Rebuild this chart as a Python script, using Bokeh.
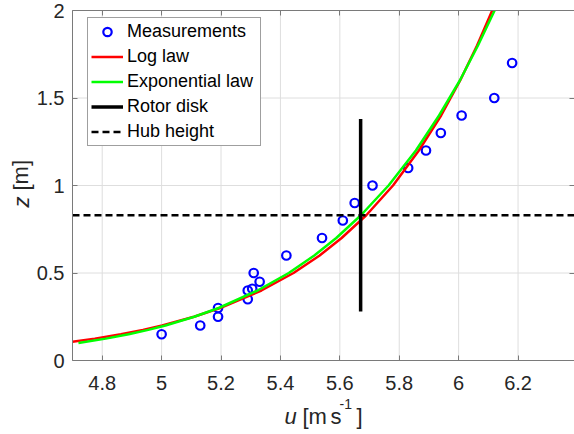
from bokeh.plotting import figure
from bokeh.models import Range1d, FixedTicker, Label, PrintfTickFormatter, LinearAxis
from bokeh.embed import file_html
from bokeh.resources import INLINE

# ---------------- data ----------------
meas_u = [5.00, 5.13, 5.19, 5.19, 5.29, 5.29, 5.305, 5.31, 5.33, 5.42, 5.54, 5.61, 5.65,
          5.71, 5.83, 5.89, 5.94, 6.01, 6.12, 6.18]
meas_z = [0.15, 0.20, 0.30, 0.25, 0.40, 0.35, 0.41, 0.50, 0.45, 0.60, 0.70, 0.80, 0.90,
          1.00, 1.10, 1.20, 1.30, 1.40, 1.50, 1.70]

# log law (visible part starts at the left edge of the axes)
log_z = [0.107, 0.125, 0.15, 0.175, 0.20, 0.25, 0.30, 0.40, 0.50, 0.60, 0.70, 0.83,
         1.00, 1.20, 1.40, 1.60, 1.80, 2.00]
log_u = [4.700, 4.775, 4.863, 4.937, 5.002, 5.109, 5.197, 5.336, 5.444, 5.532, 5.606, 5.689,
         5.779, 5.866, 5.941, 6.005, 6.062, 6.113]
exp_z = [0.10, 0.125, 0.15, 0.175, 0.20, 0.25, 0.30, 0.40, 0.50, 0.60, 0.70, 0.83,
         1.00, 1.20, 1.40, 1.60, 1.80, 2.00]
exp_u = [4.720, 4.812, 4.889, 4.955, 5.013, 5.110, 5.192, 5.323, 5.428, 5.514, 5.588, 5.671,
         5.764, 5.856, 5.934, 6.004, 6.065, 6.121]

rotor_u = [5.67, 5.67]
rotor_z = [0.28, 1.38]
hub_z = 0.83

x_min, x_max = 4.7, 6.39
y_min, y_max = 0.0, 2.0
x_ticks = [4.8, 5.0, 5.2, 5.4, 5.6, 5.8, 6.0, 6.2]
x_tick_labels = ["4.8", "5", "5.2", "5.4", "5.6", "5.8", "6", "6.2"]
y_ticks = [0, 0.5, 1, 1.5, 2]
y_tick_labels = ["0", "0.5", "1", "1.5", "2"]

FONT = "Liberation Sans"
TXT = "#262626"
AX = "#7a7a7a"
GRID = "#dedede"

# ---------------- page geometry (pixels) ----------------
W, H = 574, 434
box_left, box_right, box_top, box_bottom = 72, 574, 10, 360
kx = (box_right - box_left) / (x_max - x_min)
ky = (box_bottom - box_top) / (y_max - y_min)
xr = Range1d(x_min - box_left / kx, x_max + (W - box_right) / kx)
yr = Range1d(y_min - (H - box_bottom) / ky, y_max + box_top / ky)

p = figure(width=W, height=H, x_range=xr, y_range=yr, output_backend="svg",
           toolbar_location=None, min_border=0)
p.outline_line_color = None
p.background_fill_color = "white"
p.border_fill_color = "white"
p.grid.visible = False

# grid lines limited to the axes box
p.segment(x0=x_ticks, y0=[y_min] * len(x_ticks), x1=x_ticks, y1=[y_max] * len(x_ticks),
          line_color=GRID, line_width=1, level="underlay")
p.segment(x0=[x_min] * len(y_ticks), y0=y_ticks, x1=[x_max] * len(y_ticks), y1=y_ticks,
          line_color=GRID, line_width=1, level="underlay")


def style_axis(ax, ticks, labs, loc, bounds, show_labels=True, line=True):
    ax.fixed_location = loc
    ax.bounds = bounds
    ax.ticker = FixedTicker(ticks=ticks)
    ax.formatter = PrintfTickFormatter(format="%g")
    ax.major_label_overrides = {t: l for t, l in zip(ticks, labs)}
    ax.major_label_text_font = FONT
    ax.major_label_text_font_size = "20px"
    ax.major_label_text_color = TXT if show_labels else None
    ax.axis_line_color = AX if line else None
    ax.axis_line_width = 1
    ax.major_tick_line_color = AX
    ax.major_tick_in = 5
    ax.major_tick_out = 0
    ax.minor_tick_line_color = None


style_axis(p.xaxis[0], x_ticks, x_tick_labels, y_min, (x_min, x_max))
style_axis(p.yaxis[0], y_ticks, y_tick_labels, x_min, (y_min, y_max))
p.xaxis.major_label_standoff = 15
p.yaxis.major_label_standoff = 8

top = LinearAxis()
p.add_layout(top, "above")
style_axis(top, x_ticks, x_tick_labels, y_max, (x_min, x_max), show_labels=False)
right = LinearAxis()
p.add_layout(right, "right")
style_axis(right, y_ticks, y_tick_labels, x_max, (y_min, y_max), show_labels=False, line=False)

# ---------------- data series ----------------
p.scatter(meas_u, meas_z, marker="circle", size=8.5, fill_color=None, line_color="#0000ff",
          line_width=2.2, legend_label="Measurements")
p.line(log_u, log_z, line_color="#ff0000", line_width=2.5, legend_label="Log law")
p.line(exp_u, exp_z, line_color="#00ff00", line_width=2.5, legend_label="Exponential law")
p.line(rotor_u, rotor_z, line_color="black", line_width=3.5, legend_label="Rotor disk")
p.line([x_min, x_max], [hub_z, hub_z], line_color="black", line_width=2.5, line_dash="7 4",
       legend_label="Hub height")

lg = p.legend[0]
lg.location = (87, H - 146)
lg.label_text_font = FONT
lg.label_text_font_size = "18px"
lg.label_text_color = "black"
lg.glyph_width = 32
lg.glyph_height = 21
lg.label_height = 21
lg.label_width = 130
lg.label_standoff = 4
lg.spacing = 4
lg.padding = 3
lg.margin = 0
lg.border_line_color = "#404040"
lg.border_line_width = 1
lg.background_fill_color = "white"
lg.background_fill_alpha = 1


# ---------------- axis titles (screen px: x from left, y from bottom; anchor = text middle) ----
def lab(text, x, y, size="22px", style="normal", angle=0):
    p.add_layout(Label(x=x, y=y, x_units="screen", y_units="screen", text=text,
                       text_font=FONT, text_font_size=size, text_font_style=style,
                       text_color=TXT, text_baseline="middle", text_align="left",
                       angle=angle))


lab("u", 284, H - 416, style="italic")
lab("[m", 302, H - 416)
lab("s", 330, H - 416)
lab("-1", 339, H - 403, size="14px")
lab("]", 356, H - 416)
lab("z", 20.5, H - 207, style="italic", angle=1.5708)
lab("[m]", 20.5, H - 190, angle=1.5708)

open("out.html", "w").write(file_html(p, INLINE))
